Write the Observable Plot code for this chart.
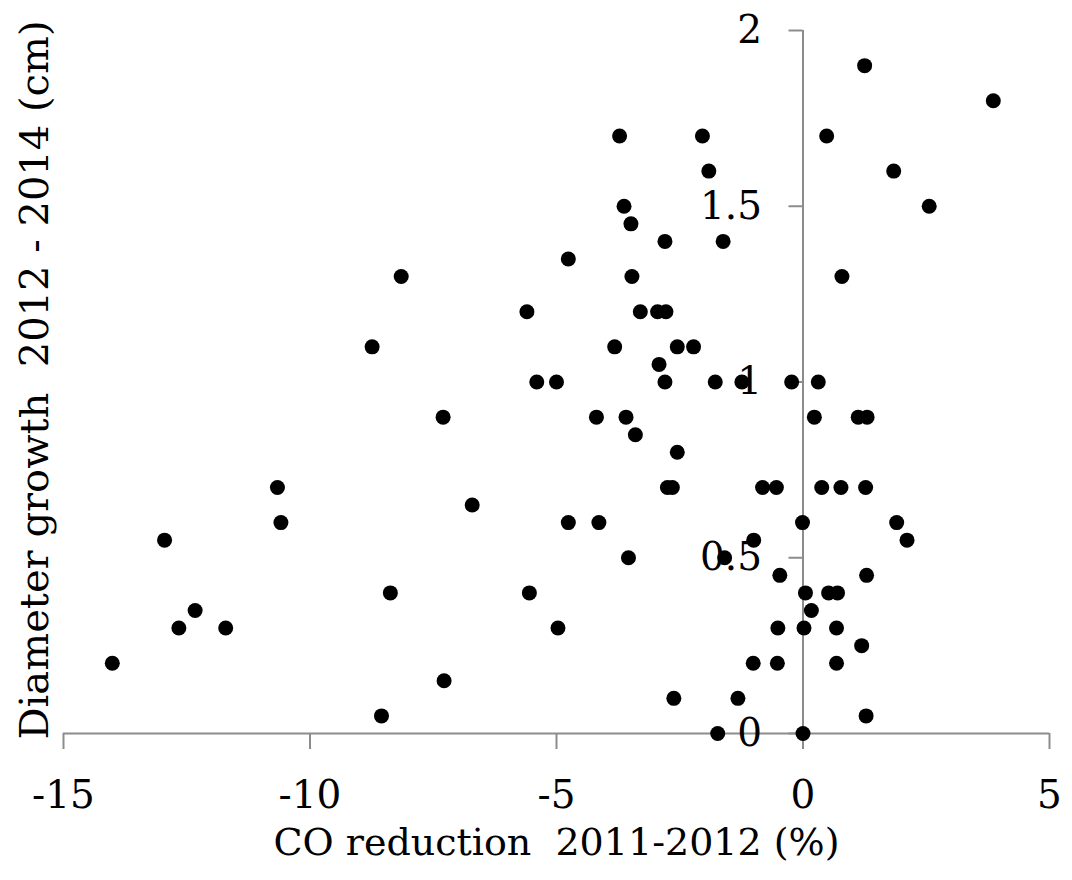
<!DOCTYPE html>
<html><head><meta charset="utf-8">
<script src="https://cdn.jsdelivr.net/npm/d3@7"></script>
<script src="https://cdn.jsdelivr.net/npm/@observablehq/plot@0.6"></script>
<style>
html,body{margin:0;padding:0;background:#fff;}
svg text{white-space:pre;}
</style>
</head><body><div id="chart"></div>
<script>
// CO reduction 2011-2012 (%)
const coReduction = [
  -14.01, -12.95, -12.33, -12.66, -11.71, -10.66, -10.59, -8.74, -8.15, -8.37,
  -8.55, -7.30, -7.28, -6.71, -5.60, -5.40, -5.00, -5.55, -4.97, -4.76,
  -4.76, -4.19, -4.14, -3.82, -3.72, -3.63, -3.59, -3.54, -3.49, -3.47,
  -3.40, -3.30, -2.95, -2.78, -2.92, -2.80, -2.80, -2.75, -2.65, -2.55,
  -2.55, -2.62, -2.22, -2.04, -1.91, -1.78, -1.73, -1.62, -1.59, -1.32,
  -1.24, -1.00, -1.01, -0.82, -0.54, -0.52, -0.51, -0.47, -0.23, -0.01,
  0.00, 0.02, 0.05, 0.17, 0.23, 0.31, 0.38, 0.48, 0.52, 0.70,
  0.68, 0.68, 0.77, 0.79, 1.12, 1.19, 1.25, 1.27, 1.28, 1.29,
  1.30, 1.84, 1.90, 2.11, 2.56, 3.86
];
// Diameter growth 2012-2014 (cm)
const diameterGrowth = [
  0.20, 0.55, 0.35, 0.30, 0.30, 0.70, 0.60, 1.10, 1.30, 0.40,
  0.05, 0.90, 0.15, 0.65, 1.20, 1.00, 1.00, 0.40, 0.30, 1.35,
  0.60, 0.90, 0.60, 1.10, 1.70, 1.50, 0.90, 0.50, 1.45, 1.30,
  0.85, 1.20, 1.20, 1.20, 1.05, 1.40, 1.00, 0.70, 0.70, 1.10,
  0.80, 0.10, 1.10, 1.70, 1.60, 1.00, 0.00, 1.40, 0.50, 0.10,
  1.00, 0.55, 0.20, 0.70, 0.70, 0.20, 0.30, 0.45, 1.00, 0.60,
  0.00, 0.30, 0.40, 0.35, 0.90, 1.00, 0.70, 1.70, 0.40, 0.40,
  0.30, 0.20, 0.70, 1.30, 0.90, 0.25, 1.90, 0.70, 0.05, 0.45,
  0.90, 1.60, 0.60, 0.55, 1.50, 1.80
];
const xTicks = [-15, -10, -5, 0, 5];
const xTickLabels = ["-15", "-10", "-5", "0", "5"];
const yTicks = [0, 0.5, 1, 1.5, 2];
const yTickLabels = ["0", "0.5", "1", "1.5", "2"];
const xLabel = "CO reduction  2011-2012 (%)";
const yLabel = "Diameter growth  2012 - 2014 (cm)";

const points = coReduction.map((x, i) => ({x, y: diameterGrowth[i]}));
const axisGray = "#8c8c8c";
const font = "'DejaVu Serif', serif";

const chart = Plot.plot({
  width: 1072,
  height: 880,
  marginLeft: 63,
  marginRight: 23,
  marginTop: 30,
  marginBottom: 147,
  x: {domain: [-15, 5], axis: null},
  y: {domain: [0, 2], axis: null},
  style: {fontFamily: font, background: "#fff", color: "#000", overflow: "visible"},
  marks: [
    Plot.ruleY([0], {stroke: axisGray, strokeWidth: 2}),
    Plot.ruleX([0], {stroke: axisGray, strokeWidth: 2}),
    Plot.ruleX(xTicks, {y1: 0, y2: 0, insetBottom: -16, stroke: axisGray, strokeWidth: 2}),
    Plot.ruleY(yTicks, {x1: 0, x2: 0, insetLeft: -14, stroke: axisGray, strokeWidth: 2}),
    Plot.text(xTicks, {x: d => d, y: 0, dy: 62, text: (d, i) => xTickLabels[i], fontSize: 39, fill: "#000"}),
    Plot.text(yTicks, {x: 0, y: d => d, dx: -41, textAnchor: "end", text: (d, i) => yTickLabels[i], fontSize: 39, fill: "#000"}),
    Plot.text([xLabel], {frameAnchor: "bottom", dy: 121, text: d => d, fontSize: 38, fill: "#000"}),
    Plot.text([yLabel], {frameAnchor: "left", textAnchor: "middle", rotate: -90, dx: -28, dy: -2, text: d => d, fontSize: 40, fill: "#000"}),
    Plot.dot(points, {x: "x", y: "y", r: 7.5, fill: "#000", stroke: "none"})
  ]
});
document.getElementById("chart").appendChild(chart);
</script>
</body></html>
